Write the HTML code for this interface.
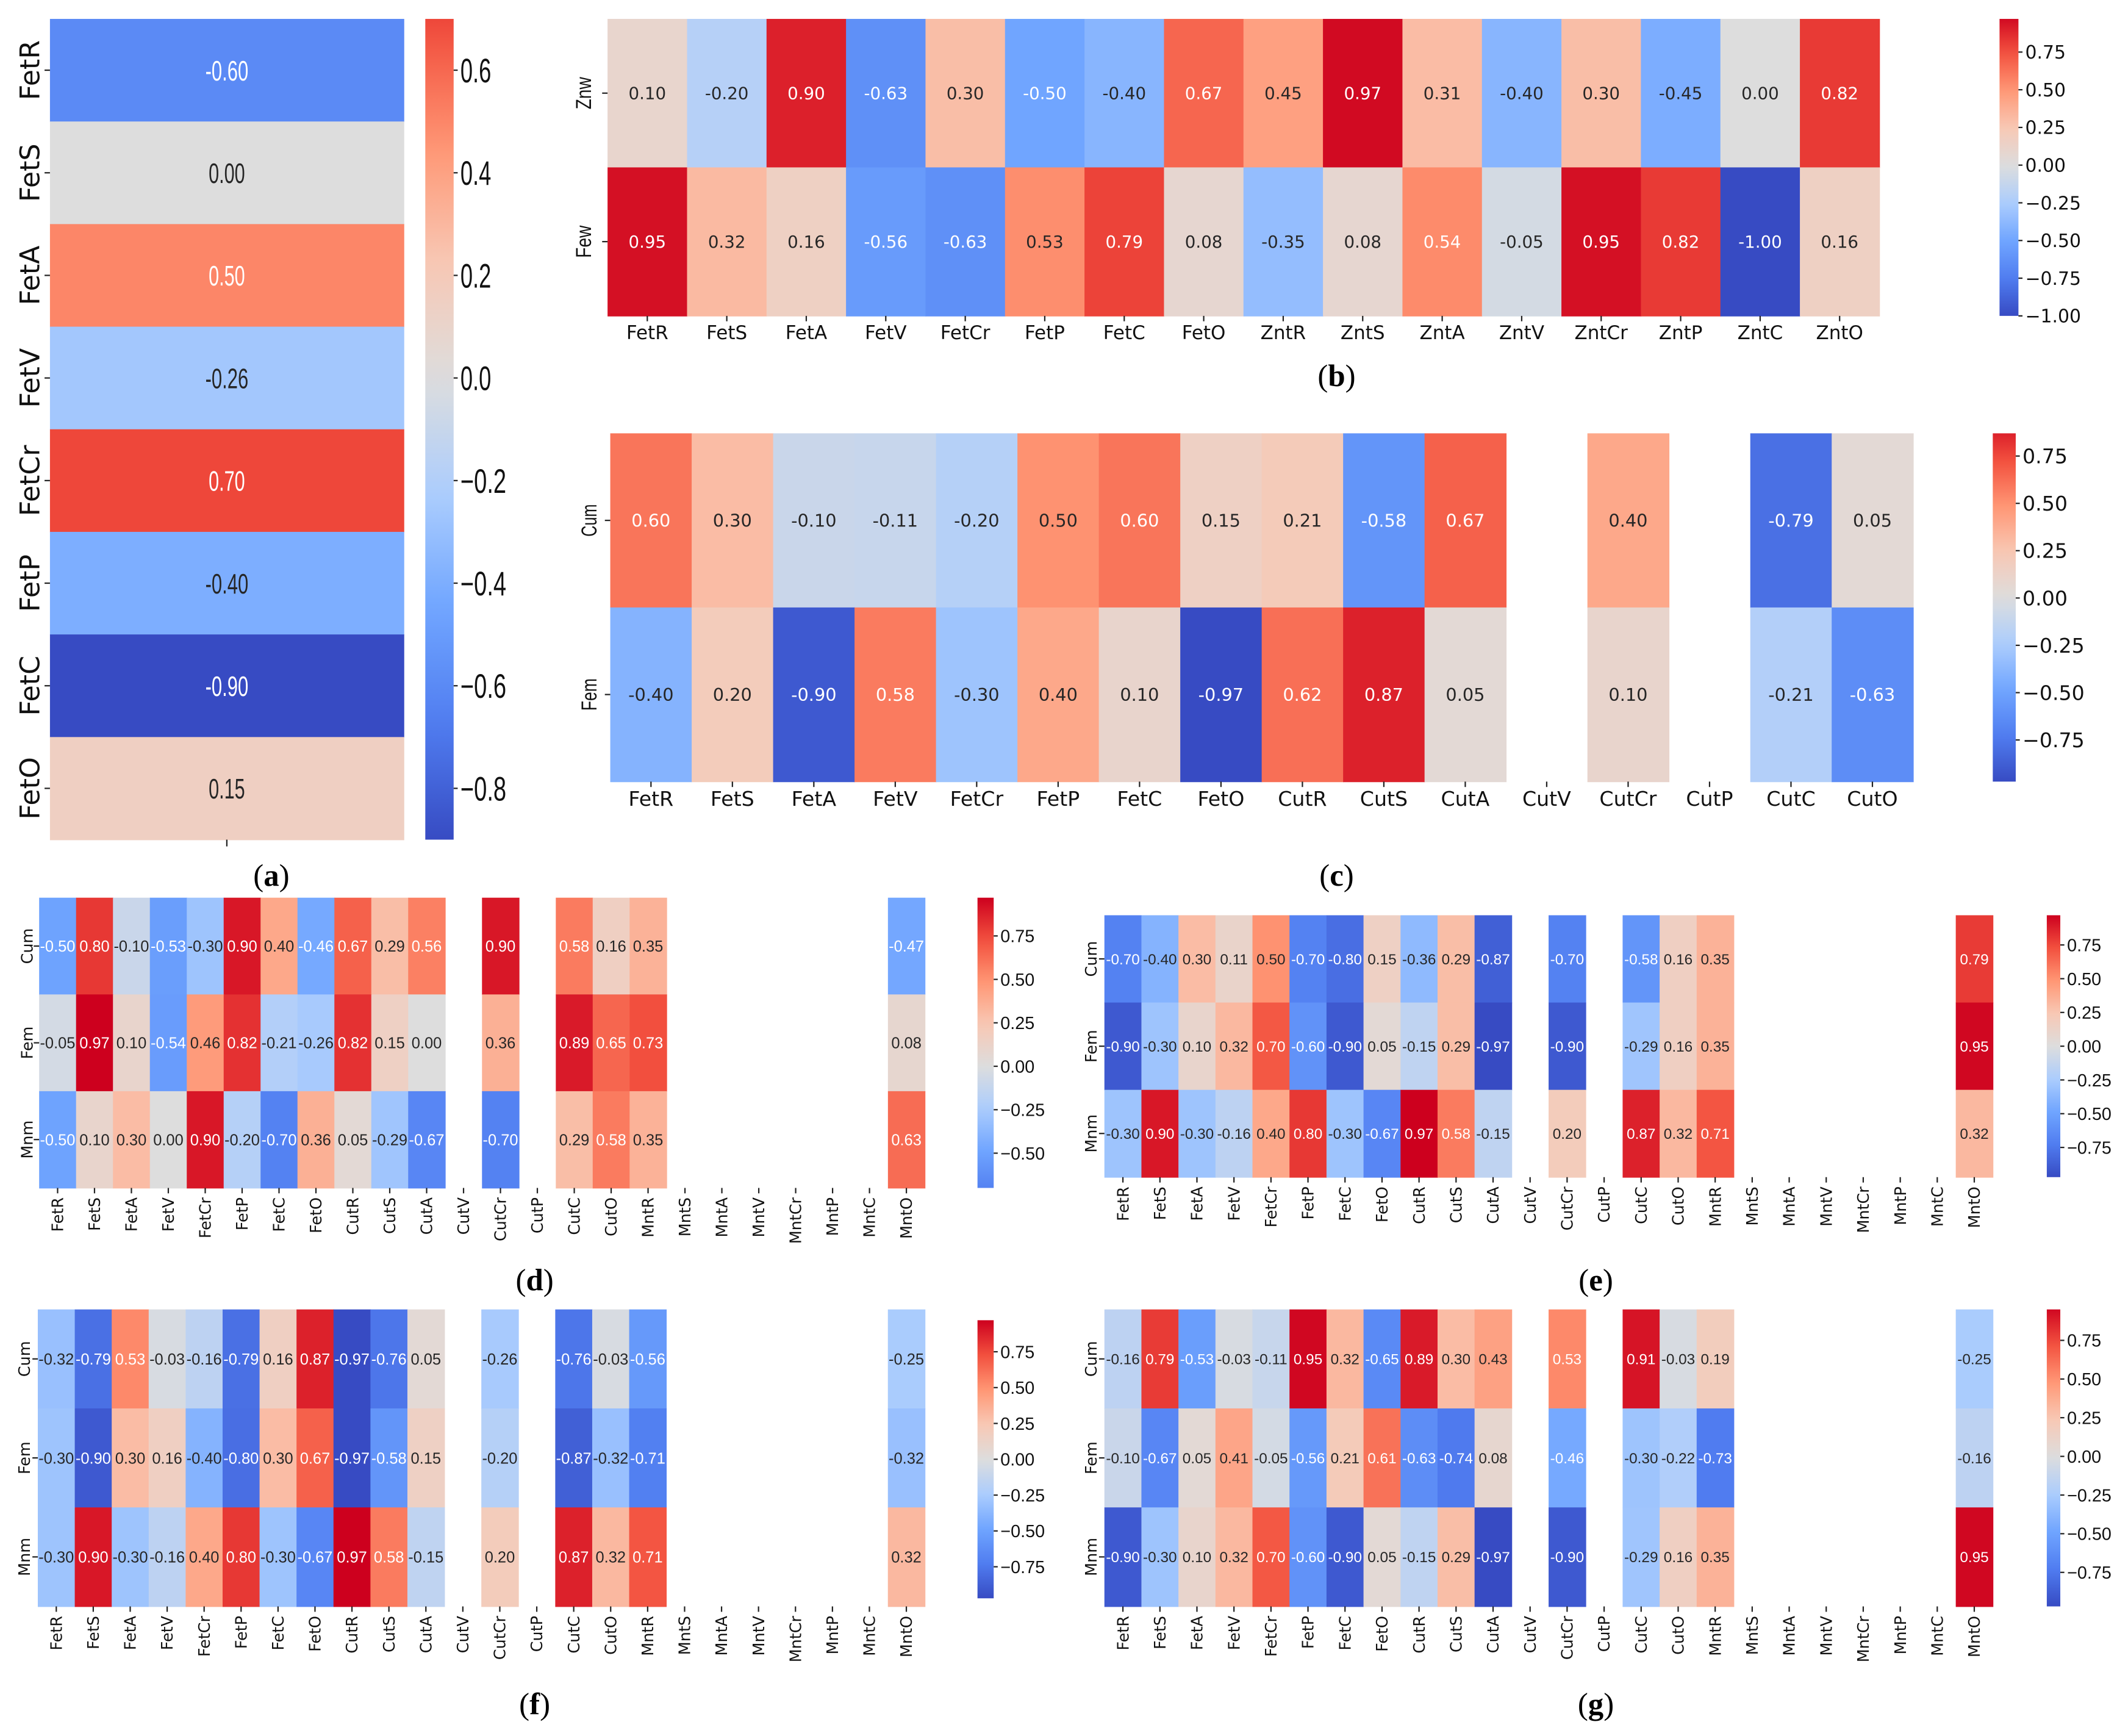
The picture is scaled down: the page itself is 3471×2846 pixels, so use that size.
<!DOCTYPE html>
<html><head><meta charset="utf-8"><style>
html,body{margin:0;padding:0;background:#fff;}
svg{display:block;}
</style></head><body>
<svg id="fig" xmlns="http://www.w3.org/2000/svg" width="3471" height="2846" viewBox="0 0 1568 1286" preserveAspectRatio="none">
<rect x="0" y="0" width="1568" height="1286" fill="#fff"/>
<defs id="defs"></defs>
</svg>
<script>
// ---------- data ----------
const aRows = ['FetR','FetS','FetA','FetV','FetCr','FetP','FetC','FetO'];
const aVals = [-0.60, 0.00, 0.50, -0.26, 0.70, -0.40, -0.90, 0.15];
const aTicks = [0.6,0.4,0.2,0.0,-0.2,-0.4,-0.6,-0.8];

const bCols = ['FetR','FetS','FetA','FetV','FetCr','FetP','FetC','FetO','ZntR','ZntS','ZntA','ZntV','ZntCr','ZntP','ZntC','ZntO'];
const bRows = ['Znw','Few'];
const bZnw = [0.10,-0.20,0.90,-0.63,0.30,-0.50,-0.40,0.67,0.45,0.97,0.31,-0.40,0.30,-0.45,0.00,0.82];
const bFew = [0.95,0.32,0.16,-0.56,-0.63,0.53,0.79,0.08,-0.35,0.08,0.54,-0.05,0.95,0.82,-1.00,0.16];
const bTicks = [0.75,0.50,0.25,0.00,-0.25,-0.50,-0.75,-1.00];

const cCols = ['FetR','FetS','FetA','FetV','FetCr','FetP','FetC','FetO','CutR','CutS','CutA','CutV','CutCr','CutP','CutC','CutO'];
const cRows = ['Cum','Fem'];
const cCum = [0.60,0.30,-0.10,-0.11,-0.20,0.50,0.60,0.15,0.21,-0.58,0.67,null,0.40,null,-0.79,0.05];
const cFem = [-0.40,0.20,-0.90,0.58,-0.30,0.40,0.10,-0.97,0.62,0.87,0.05,null,0.10,null,-0.21,-0.63];
const cTicks = [0.75,0.50,0.25,0.00,-0.25,-0.50,-0.75];

const dgCols = ['FetR','FetS','FetA','FetV','FetCr','FetP','FetC','FetO','CutR','CutS','CutA','CutV','CutCr','CutP','CutC','CutO','MntR','MntS','MntA','MntV','MntCr','MntP','MntC','MntO'];
const dgRows = ['Cum','Fem','Mnm'];
const N = null;
const dCum = [-0.50,0.80,-0.10,-0.53,-0.30,0.90,0.40,-0.46,0.67,0.29,0.56,N,0.90,N,0.58,0.16,0.35,N,N,N,N,N,N,-0.47];
const dFem = [-0.05,0.97,0.10,-0.54,0.46,0.82,-0.21,-0.26,0.82,0.15,0.00,N,0.36,N,0.89,0.65,0.73,N,N,N,N,N,N,0.08];
const dMnm = [-0.50,0.10,0.30,0.00,0.90,-0.20,-0.70,0.36,0.05,-0.29,-0.67,N,-0.70,N,0.29,0.58,0.35,N,N,N,N,N,N,0.63];
const dTicks = [0.75,0.50,0.25,0.00,-0.25,-0.50];

const eCum = [-0.70,-0.40,0.30,0.11,0.50,-0.70,-0.80,0.15,-0.36,0.29,-0.87,N,-0.70,N,-0.58,0.16,0.35,N,N,N,N,N,N,0.79];
const eFem = [-0.90,-0.30,0.10,0.32,0.70,-0.60,-0.90,0.05,-0.15,0.29,-0.97,N,-0.90,N,-0.29,0.16,0.35,N,N,N,N,N,N,0.95];
const eMnm = [-0.30,0.90,-0.30,-0.16,0.40,0.80,-0.30,-0.67,0.97,0.58,-0.15,N,0.20,N,0.87,0.32,0.71,N,N,N,N,N,N,0.32];

const fCum = [-0.32,-0.79,0.53,-0.03,-0.16,-0.79,0.16,0.87,-0.97,-0.76,0.05,N,-0.26,N,-0.76,-0.03,-0.56,N,N,N,N,N,N,-0.25];
const fFem = [-0.30,-0.90,0.30,0.16,-0.40,-0.80,0.30,0.67,-0.97,-0.58,0.15,N,-0.20,N,-0.87,-0.32,-0.71,N,N,N,N,N,N,-0.32];
const fMnm = [-0.30,0.90,-0.30,-0.16,0.40,0.80,-0.30,-0.67,0.97,0.58,-0.15,N,0.20,N,0.87,0.32,0.71,N,N,N,N,N,N,0.32];

const gCum = [-0.16,0.79,-0.53,-0.03,-0.11,0.95,0.32,-0.65,0.89,0.30,0.43,N,0.53,N,0.91,-0.03,0.19,N,N,N,N,N,N,-0.25];
const gFem = [-0.10,-0.67,0.05,0.41,-0.05,-0.56,0.21,0.61,-0.63,-0.74,0.08,N,-0.46,N,-0.30,-0.22,-0.73,N,N,N,N,N,N,-0.16];
const gMnm = [-0.90,-0.30,0.10,0.32,0.70,-0.60,-0.90,0.05,-0.15,0.29,-0.97,N,-0.90,N,-0.29,0.16,0.35,N,N,N,N,N,N,0.95];
const efgTicks = [0.75,0.50,0.25,0.00,-0.25,-0.50,-0.75];

// ---------- helpers ----------
const svg = document.getElementById('fig');
const defs = document.getElementById('defs');
const NS = 'http://www.w3.org/2000/svg';
const NARROW = '"Liberation Sans Narrow","Liberation Sans",sans-serif';
const DEJA = '"DejaVu Sans","Liberation Sans",sans-serif';
const SERIF = '"Liberation Serif",serif';

const anchors = [
  [0.0,[55,75,195]],[0.125,[80,125,240]],[0.25,[112,165,255]],[0.375,[172,205,253]],
  [0.5,[221,221,221]],[0.625,[248,200,180]],[0.75,[255,150,116]],[0.875,[242,80,62]],[1.0,[205,0,30]]
];
function cmap(t){
  t = Math.max(0, Math.min(1, t));
  for (let i=0;i<anchors.length-1;i++){
    const [t0,c0]=anchors[i],[t1,c1]=anchors[i+1];
    if (t<=t1){ const f=(t-t0)/(t1-t0); return c0.map((c,k)=>Math.round(c+(c1[k]-c)*f)); }
  }
  return anchors[anchors.length-1][1];
}
function rgb(c){return 'rgb('+c.join(',')+')';}
function lum(c){
  const l=c.map(v=>{v/=255;return v<=0.03928?v/12.92:Math.pow((v+0.055)/1.055,2.4);});
  return 0.2126*l[0]+0.7152*l[1]+0.0722*l[2];
}
function mk(tag, attrs, parent){
  const el=document.createElementNS(NS,tag);
  for (const k in attrs) el.setAttribute(k, attrs[k]);
  (parent||svg).appendChild(el);
  return el;
}
function narrowW(s,size){
  let w=0;
  for (const ch of s){
    if (ch>='0'&&ch<='9') w+=0.37; else if (ch==='.') w+=0.17; else if (ch==='-') w+=0.24;
    else if (ch==='\u2212') w+=0.45; else w+=0.55;
  }
  return w*size;
}
function squeeze(t, s, size){
  t.setAttribute('textLength', narrowW(s,size).toFixed(1));
  t.setAttribute('lengthAdjust','spacingAndGlyphs');
}
function fmt(v){ return (v<0?'-':'')+Math.abs(v).toFixed(2); }
function tfmt(v,dec){ return (v<0?'\u2212':'')+Math.abs(v).toFixed(dec); }

let gradId = 0;
function drawPanel(P){
  const g = mk('g',{});
  
  
  const nR = P.data.length, nC = P.data[0].length;
  let vmin=Infinity, vmax=-Infinity;
  P.data.forEach(r=>r.forEach(v=>{ if(v!==null){vmin=Math.min(vmin,v);vmax=Math.max(vmax,v);} }));
  const R = Math.max(Math.abs(vmin), Math.abs(vmax));
  const norm = v => (v+R)/(2*R);
  const cw = (P.x1-P.x0)/nC, ch = (P.y1-P.y0)/nR;
  const colX = j => P.x0 + j*cw;
  const rowY = i => P.y0 + i*ch;
  for (let i=0;i<nR;i++){
    for (let j=0;j<nC;j++){
      const v = P.data[i][j];
      if (v===null) continue;
      const c = cmap(norm(v));
      const cell = mk('rect',{x:colX(j),y:rowY(i),width:cw+0.4,height:ch+0.4,fill:rgb(c)},g);
      
      
      const t = mk('text',{x:colX(j)+cw/2,y:rowY(i)+ch/2+P.annSize*0.36,'text-anchor':'middle','font-family':P.annFont,'font-size':P.annSize,fill:lum(c)>0.408?'#262626':'#ffffff'},g);
      t.textContent = fmt(v);
      if (P.annSqueeze) squeeze(t, fmt(v), P.annSize);
      
      
    }
  }
  for (let i=0;i<nR;i++){
    const cy = rowY(i)+ch/2;
    mk('line',{x1:P.x0-4,y1:cy,x2:P.x0,y2:cy,stroke:'#222','stroke-width':1},g);
    const lx = P.rowLabelX + P.rowSize*0.36;
    const t = mk('text',{x:lx,y:cy,'text-anchor':'middle','font-family':P.rowFont,'font-size':P.rowSize,fill:'#111',transform:'rotate(-90 '+lx+' '+cy+')'},g);
    t.textContent = P.rows[i];
    if (P.rowSqueeze) { t.setAttribute('textLength', (P.rows[i].length*P.rowSize*0.5).toFixed(1)); t.setAttribute('lengthAdjust','spacingAndGlyphs'); }
    
    
  }
  if (P.showCols){
    for (let j=0;j<nC;j++){
      const cx = colX(j)+cw/2;
      mk('line',{x1:cx,y1:P.y1,x2:cx,y2:P.y1+4,stroke:'#222','stroke-width':1},g);
      let t;
      if (P.rotCols){
        const lx = cx + P.colSize*0.36, ly = P.y1+7;
        t = mk('text',{x:lx,y:ly,'text-anchor':'end','font-family':DEJA,'font-size':P.colSize,fill:'#111',transform:'rotate(-90 '+lx+' '+ly+')'},g);
      } else {
        t = mk('text',{x:cx,y:P.y1+6+P.colSize*0.8,'text-anchor':'middle','font-family':DEJA,'font-size':P.colSize,fill:'#111'},g);
      }
      t.textContent = P.cols[j];
      
      
    }
  } else if (P.bottomTick){
    const cx = (P.x0+P.x1)/2;
    mk('line',{x1:cx,y1:P.y1,x2:cx,y2:P.y1+5,stroke:'#222','stroke-width':1},g);
  }
  const id='cb'+(gradId++);
  const grad = mk('linearGradient',{id:id,x1:0,y1:0,x2:0,y2:1},defs);
  for (let k=0;k<=24;k++){
    const v = vmax - (vmax-vmin)*k/24;
    mk('stop',{offset:(k/24*100)+'%','stop-color':rgb(cmap(norm(v)))},grad);
  }
  const cb = mk('rect',{x:P.cbX,y:P.cbY0,width:P.cbW,height:P.cbY1-P.cbY0,fill:'url(#'+id+')'},g);
  
  
  const cbY = v => P.cbY0 + (vmax-v)/(vmax-vmin)*(P.cbY1-P.cbY0);
  P.ticks.forEach(tv=>{
    const y = cbY(tv);
    mk('line',{x1:P.cbX+P.cbW,y1:y,x2:P.cbX+P.cbW+3,y2:y,stroke:'#222','stroke-width':1},g);
    const t = mk('text',{x:P.cbX+P.cbW+5,y:y+P.cbSize*0.36,'font-family':P.cbFont,'font-size':P.cbSize,fill:'#111'},g);
    t.textContent = tfmt(tv,P.cbDec);
    if (P.cbSqueeze) squeeze(t, tfmt(tv,P.cbDec), P.cbSize);
    
    
  });
  const cap = mk('text',{x:P.capX,y:P.capY,'text-anchor':'middle','font-family':SERIF,'font-size':23,fill:'#000'},g);
  
  
  const s1 = mk('tspan',{},cap); s1.textContent='(';
  const s2 = mk('tspan',{'font-weight':'bold'},cap); s2.textContent=P.letter;
  const s3 = mk('tspan',{},cap); s3.textContent=')';
}

drawPanel({name:'panel-a-heatmap',rows:aRows,cols:['r'],data:aVals.map(v=>[v]),
  x0:37,x1:299,y0:14,y1:622,annFont:NARROW,annSize:21,annSqueeze:true,rowFont:DEJA,rowSize:20,rowLabelX:22,
  showCols:false,bottomTick:true,cbX:315,cbW:21,cbY0:14,cbY1:622,ticks:aTicks,cbFont:NARROW,cbSize:25,cbSqueeze:true,cbDec:1,
  capX:201,capY:656,letter:'a'});
drawPanel({name:'panel-b-heatmap',rows:bRows,cols:bCols,data:[bZnw,bFew],
  x0:450,x1:1392,y0:14,y1:234,annFont:DEJA,annSize:12.5,rowFont:NARROW,rowSize:16,rowSqueeze:true,rowLabelX:432,
  showCols:true,rotCols:false,colSize:14,cbX:1481,cbW:14,cbY0:14,cbY1:234,ticks:bTicks,cbFont:DEJA,cbSize:13.5,cbDec:2,
  capX:990,capY:286,letter:'b'});
drawPanel({name:'panel-c-heatmap',rows:cRows,cols:cCols,data:[cCum,cFem],
  x0:452,x1:1417,y0:321,y1:579,annFont:DEJA,annSize:13,rowFont:NARROW,rowSize:16,rowSqueeze:true,rowLabelX:436,
  showCols:true,rotCols:false,colSize:15,cbX:1476,cbW:17,cbY0:321,cbY1:579,ticks:cTicks,cbFont:DEJA,cbSize:15,cbDec:2,
  capX:990,capY:656,letter:'c'});
drawPanel({name:'panel-d-heatmap',rows:dgRows,cols:dgCols,data:[dCum,dFem,dMnm],
  x0:29,x1:685,y0:665,y1:880,annFont:NARROW,annSize:11.5,rowFont:DEJA,rowSize:11.5,rowLabelX:20,
  showCols:true,rotCols:true,colSize:11.5,cbX:724,cbW:12,cbY0:665,cbY1:880,ticks:dTicks,cbFont:NARROW,cbSize:13,cbDec:2,
  capX:396,capY:956,letter:'d'});
drawPanel({name:'panel-e-heatmap',rows:dgRows,cols:dgCols,data:[eCum,eFem,eMnm],
  x0:818,x1:1476,y0:678,y1:872,annFont:NARROW,annSize:11,rowFont:DEJA,rowSize:11.5,rowLabelX:808,
  showCols:true,rotCols:true,colSize:11.5,cbX:1516,cbW:10,cbY0:678,cbY1:872,ticks:efgTicks,cbFont:NARROW,cbSize:13,cbDec:2,
  capX:1182,capY:956,letter:'e'});
drawPanel({name:'panel-f-heatmap',rows:dgRows,cols:dgCols,data:[fCum,fFem,fMnm],
  x0:28,x1:685,y0:970,y1:1190,annFont:NARROW,annSize:11.5,rowFont:DEJA,rowSize:11.5,rowLabelX:18,
  showCols:true,rotCols:true,colSize:11.5,cbX:724,cbW:12,cbY0:978,cbY1:1184,ticks:efgTicks,cbFont:NARROW,cbSize:13,cbDec:2,
  capX:396,capY:1270,letter:'f'});
drawPanel({name:'panel-g-heatmap',rows:dgRows,cols:dgCols,data:[gCum,gFem,gMnm],
  x0:818,x1:1476,y0:970,y1:1190,annFont:NARROW,annSize:11,rowFont:DEJA,rowSize:11.5,rowLabelX:808,
  showCols:true,rotCols:true,colSize:11.5,cbX:1516,cbW:10,cbY0:970,cbY1:1190,ticks:efgTicks,cbFont:NARROW,cbSize:13,cbDec:2,
  capX:1182,capY:1270,letter:'g'});
</script>
</body></html>
